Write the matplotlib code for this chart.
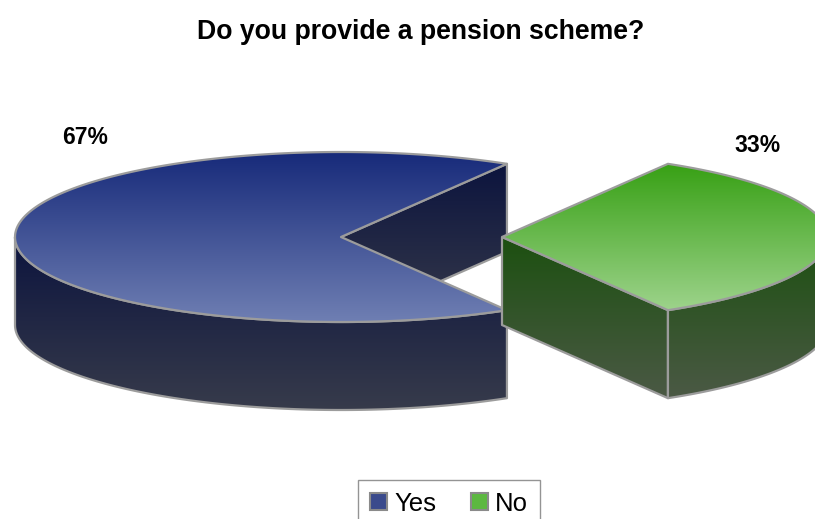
import numpy as np
import matplotlib
matplotlib.use("Agg")
import matplotlib.pyplot as plt
from matplotlib.patches import Polygon, Patch
from matplotlib.colors import LinearSegmentedColormap

plt.rcParams['font.family'] = ['Liberation Sans', 'DejaVu Sans']

# chart data
labels = ['Yes', 'No']
shares = [67, 33]
pct_text = ['67%', '33%']

# colours (top face gradient, side gradient) per slice
top_colors = [('#172a7a', '#6f7fb3'), ('#37a014', '#9dd38b')]
side_colors = [('#0c143e', '#373b4b'), ('#1c5010', '#4b5945')]
legend_colors = ['#3a4a8c', '#5cb840']
edge = '#9c9c9c'

# layout of the pseudo-3D pie, in pixels
cx, cy = 341, 237
rx, ry = 326, 85
depth = 88
explode_px = [0, 161]
label_xy = [(85, 138), (757, 145)]


def grad_poly(ax, pts, c0, c1, z):
    pts = np.asarray(pts)
    poly = Polygon(pts, closed=True, facecolor='none', edgecolor=edge,
                   lw=1.6, joinstyle='round', zorder=z + 0.5)
    ax.add_patch(poly)
    cmap = LinearSegmentedColormap.from_list('g', [c0, c1])
    grad = np.linspace(0, 1, 256).reshape(-1, 1)
    im = ax.imshow(grad, cmap=cmap, aspect='auto', interpolation='bilinear',
                   extent=(pts[:, 0].min(), pts[:, 0].max(),
                           pts[:, 1].max(), pts[:, 1].min()), zorder=z)
    im.set_clip_path(poly)


def ell(x0, t):
    t = np.radians(t)
    return np.column_stack([x0 + rx * np.cos(t), cy - ry * np.sin(t)])


fig = plt.figure(figsize=(8.15, 5.19), dpi=100)
ax = fig.add_axes([0, 0, 1, 1])

# slice angles: the "No" slice is centred on the right (angle 0)
start = 180 * shares[1] / 100
z = 1
for i, share in enumerate(shares):
    a0 = start
    a1 = start + 360 * share / 100
    start = a1
    mid = np.radians((a0 + a1) / 2)
    x0 = cx + explode_px[i] * np.cos(mid)
    center = np.array([[x0, cy]])
    down = np.array([0, depth])

    # radial cut faces that face the viewer
    for a, visible in ((a0, np.cos(np.radians(a0)) > 0),
                       (a1, np.cos(np.radians(a1)) < 0)):
        if visible:
            p = ell(x0, [a])
            face = np.vstack([center, p, p + down, center + down])
            grad_poly(ax, face, side_colors[i][0], side_colors[i][1], z)
            z += 1

    # outer wall (front half only)
    lo, hi = max(a0, 180), min(a1, 360)
    if hi > lo:
        arc = ell(x0, np.linspace(lo, hi, 120))
        wall = np.vstack([arc, (arc + down)[::-1]])
        grad_poly(ax, wall, side_colors[i][0], side_colors[i][1], z)
        z += 1

    # top face
    arc = ell(x0, np.linspace(a0, a1, 240))
    top = np.vstack([center, arc])
    grad_poly(ax, top, top_colors[i][0], top_colors[i][1], z)
    z += 1

    ax.text(label_xy[i][0], label_xy[i][1], pct_text[i], fontsize=16.5,
            fontweight='bold', ha='center', va='center', zorder=50)

ax.set_xlim(0, 815)
ax.set_ylim(519, 0)
ax.axis('off')

fig.text(421 / 815, 1 - 32 / 519, 'Do you provide a pension scheme?',
         fontsize=19.2, fontweight='bold', ha='center', va='center')

handles = [Patch(facecolor=c, edgecolor='#8a8a8a', lw=1.5) for c in legend_colors]
leg = fig.legend(handles, labels, loc='upper center', ncol=2,
                 bbox_to_anchor=(449 / 815, 39 / 519), fontsize=18.5,
                 frameon=True, fancybox=False, handlelength=0.66,
                 handleheight=0.66, handletextpad=0.28, columnspacing=1.35,
                 borderpad=0.45, borderaxespad=0)
leg.get_frame().set_edgecolor('#7a7a7a')
leg.get_frame().set_linewidth(1.0)

fig.savefig('out.png', dpi=100)
